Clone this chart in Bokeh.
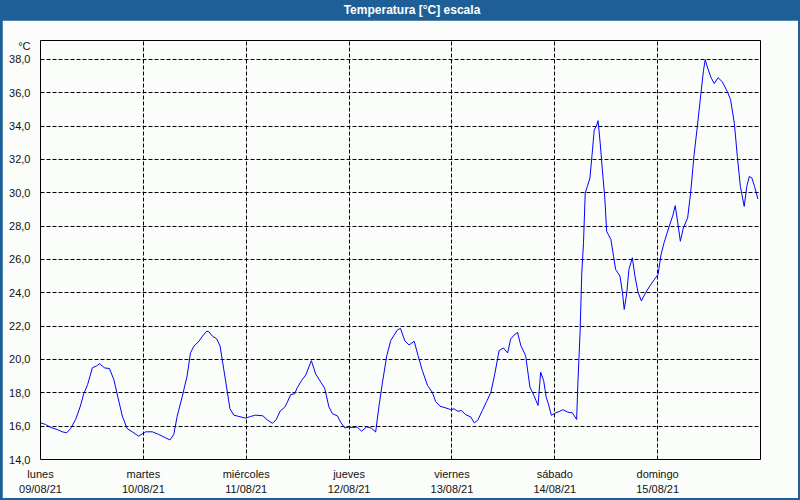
from bokeh.plotting import figure
from bokeh.models import Range1d, FixedTicker, Div
from bokeh.layouts import column
from bokeh.embed import file_html
from bokeh.resources import INLINE

TITLE = "Temperatura [°C] escala"
UNIT = "°C"

day_names = ["lunes", "martes", "miércoles", "jueves", "viernes", "sábado", "domingo"]
day_dates = ["09/08/21", "10/08/21", "11/08/21", "12/08/21", "13/08/21", "14/08/21", "15/08/21"]
day_ticks = [0, 24, 48, 72, 96, 120, 144]

y_ticks = [14, 16, 18, 20, 22, 24, 26, 28, 30, 32, 34, 36, 38]
y_labels = ["14,0", "16,0", "18,0", "20,0", "22,0", "24,0", "26,0",
            "28,0", "30,0", "32,0", "34,0", "36,0", "38,0"]

# hours since Monday 00:00
hours = [0.0, 1.2, 2.3, 3.9, 5.1, 6.1, 7.0, 8.2, 9.3, 10.1, 11.0, 12.1, 13.0, 13.8, 14.9,
         16.1, 17.1, 18.0, 19.1, 20.2, 21.4, 22.9, 24.5, 26.1, 27.6, 29.2, 30.2, 31.1, 31.9,
         33.1, 34.2, 35.0, 35.8, 37.0, 37.8, 38.8, 39.3, 40.1, 41.1, 41.9, 42.4, 43.2, 44.2,
         45.1, 46.3, 47.9, 49.0, 50.2, 51.9, 52.9, 54.1, 55.0, 55.9, 57.0, 57.6, 58.4, 59.3,
         59.9, 60.9, 61.9, 63.2, 64.2, 65.4, 66.3, 67.3, 68.1, 69.3, 70.0, 71.0, 72.0, 72.8,
         73.9, 74.9, 76.1, 77.2, 78.2, 79.0, 79.8, 80.8, 81.7, 82.5, 83.3, 84.0, 85.0, 86.0,
         87.2, 88.1, 89.1, 90.3, 91.4, 92.2, 93.2, 94.6, 95.7, 96.5, 97.4, 98.2, 99.2, 100.4,
         101.2, 102.0, 103.1, 104.1, 105.1, 106.0, 107.0, 108.0, 109.0, 109.7, 110.5, 111.3,
         112.1, 113.2, 114.2, 115.2, 116.1, 116.7, 117.4, 118.0, 118.5, 119.2, 120.2, 121.0,
         121.9, 123.0, 124.1, 125.1, 125.4, 125.9, 126.3, 126.7, 127.1, 127.6, 128.2, 128.8,
         129.2, 129.8, 130.1, 130.6, 131.1, 131.7, 132.1, 133.1, 133.7, 134.2, 135.2, 135.8,
         136.2, 136.8, 137.3, 138.1, 138.7, 139.4, 140.2, 141.2, 142.4, 144.1, 144.8, 145.5,
         146.7, 147.5, 148.1, 148.7, 149.3, 150.0, 151.0, 151.7, 152.5, 153.3, 154.1, 154.7,
         155.1, 155.6, 156.4, 157.2, 158.1, 159.1, 160.1, 161.0, 161.9, 162.6, 163.3, 164.2,
         164.8, 165.4, 166.0, 166.6, 167.4]

temps = [16.2, 16.1, 15.93, 15.8, 15.66, 15.6, 15.85, 16.4, 17.2, 17.95, 18.5, 19.5, 19.6,
         19.75, 19.5, 19.45, 18.8, 17.8, 16.6, 15.86, 15.66, 15.4, 15.66, 15.66, 15.5, 15.3,
         15.17, 15.5, 16.6, 17.8, 19.0, 20.4, 20.8, 21.1, 21.4, 21.7, 21.66, 21.4, 21.24, 20.8,
         20.0, 18.7, 17.05, 16.66, 16.58, 16.48, 16.58, 16.66, 16.62, 16.38, 16.17, 16.38, 16.9,
         17.14, 17.44, 17.9, 17.94, 18.3, 18.73, 19.07, 19.93, 19.13, 18.64, 18.28, 17.15,
         16.75, 16.61, 16.25, 15.89, 15.95, 15.91, 15.95, 15.7, 15.95, 15.89, 15.65, 17.24,
         18.64, 20.23, 21.12, 21.46, 21.78, 21.86, 21.12, 20.87, 21.09, 20.23, 19.33, 18.44,
         18.04, 17.48, 17.2, 17.09, 16.99, 17.04, 16.89, 16.94, 16.69, 16.55, 16.2, 16.34,
         16.94, 17.48, 18.04, 19.13, 20.53, 20.69, 20.39, 21.22, 21.46, 21.62, 20.82, 20.23,
         18.34, 17.8, 17.24, 19.24, 18.73, 17.74, 17.34, 16.65, 16.8, 16.87, 16.99, 16.84,
         16.8, 16.4, 18.64, 21.62, 25.2, 27.0, 29.98, 30.38, 30.88, 32.57, 33.76, 34.06, 34.32,
         32.97, 31.37, 29.58, 27.69, 27.19, 26.2, 25.4, 25.0, 24.0, 23.0, 24.0, 25.4, 26.1,
         25.0, 24.05, 23.51, 24.0, 24.5, 25.1, 26.3, 27.0, 27.99, 28.59, 29.22, 28.19, 27.09,
         27.89, 28.49, 30.0, 32.27, 34.06, 35.95, 37.34, 37.98, 37.54, 36.94, 36.55, 36.9,
         36.65, 36.15, 35.6, 34.16, 32.17, 30.38, 29.18, 30.38, 30.98, 30.88, 30.38, 29.62]

assert len(hours) == len(temps)

BG = "#fbfdfb"
BAR = "#1d5f96"
FONT = "Liberation Sans"
TXT = "#111111"
Y_MIN, Y_MAX = 14, 39.13
UNIT_Y = 38.8  # where the unit label sits on the y axis

p = figure(width=796, height=478,
           x_range=Range1d(0, 168), y_range=Range1d(Y_MIN, Y_MAX),
           output_backend="svg", toolbar_location=None,
           min_border_left=38, min_border_right=38,
           min_border_top=20, min_border_bottom=37,
           background_fill_color=BG, border_fill_color=BG,
           margin=(0, 2, 2, 2))
p.outline_line_color = "black"
p.outline_line_width = 1
p.outline_line_alpha = 1

p.line(hours, temps, line_color="#0000ff", line_width=1)

# x axis
p.xaxis.ticker = FixedTicker(ticks=day_ticks)
p.xaxis.major_label_overrides = {t: f"{n}\n{d}" for t, n, d in zip(day_ticks, day_names, day_dates)}
p.xaxis.axis_line_color = None
p.xaxis.major_tick_line_color = None
p.xaxis.minor_tick_line_color = None
p.xaxis.major_label_standoff = 2
p.xaxis.major_label_text_font = FONT
p.xaxis.major_label_text_font_size = "11px"
p.xaxis.major_label_text_color = TXT
p.xaxis.major_label_text_line_height = 1.3

# y axis (tick labels plus the unit label above them)
y_overrides = {t: s for t, s in zip(y_ticks, y_labels)}
y_overrides[UNIT_Y] = UNIT
p.yaxis.ticker = FixedTicker(ticks=y_ticks + [UNIT_Y])
p.yaxis.major_label_overrides = y_overrides
p.yaxis.axis_line_color = None
p.yaxis.major_tick_line_color = None
p.yaxis.minor_tick_line_color = None
p.yaxis.major_label_standoff = 4
p.yaxis.major_label_text_font = FONT
p.yaxis.major_label_text_font_size = "11px"
p.yaxis.major_label_text_color = TXT

# grids
p.xgrid.ticker = FixedTicker(ticks=day_ticks)
p.ygrid.ticker = FixedTicker(ticks=y_ticks)
for g in (p.xgrid, p.ygrid):
    g.grid_line_color = "black"
    g.grid_line_dash = "4 2"
    g.grid_line_width = 1
    g.grid_line_alpha = 1

title_div = Div(
    text=(f'<div style="width:800px;height:20px;line-height:20px;text-align:center;'
          f'padding-left:24px;box-sizing:border-box;color:#ffffff;font-weight:bold;'
          f'font-family:\'{FONT}\';font-size:12px;">{TITLE}</div>'),
    width=800, height=20, margin=(0, 0, 0, 0),
    styles={"background-color": BAR})

layout = column(title_div, p, spacing=0, styles={"background-color": BAR})

open("out.html", "w").write(file_html(layout, INLINE))
